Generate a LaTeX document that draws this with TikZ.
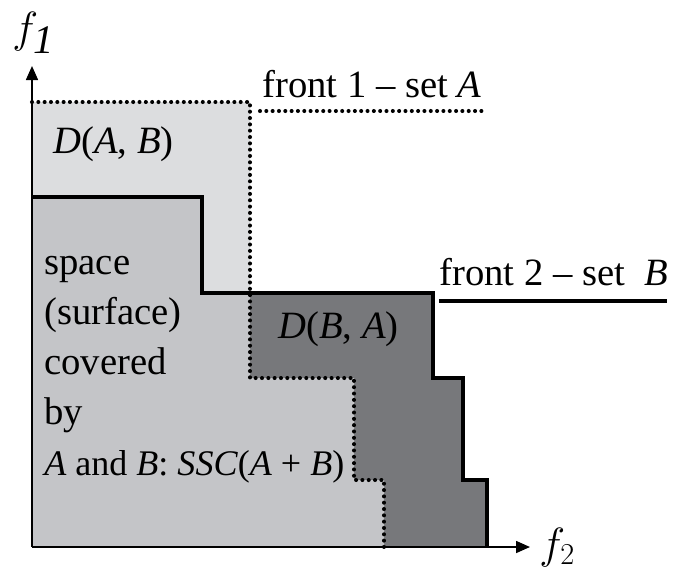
\documentclass[tikz,border=0pt]{standalone}
\usepackage{fontspec}
\setmainfont{Liberation Serif}
\usetikzlibrary{arrows.meta}

\definecolor{lightA}{HTML}{DCDDDF}
\definecolor{midAB}{HTML}{C4C5C8}
\definecolor{darkB}{HTML}{77787B}

\begin{document}
\begin{tikzpicture}[
        x=0.02cm, y=-0.02cm, % one unit = one pixel of the reference
        axis/.style = {line width=0.9pt, -{Triangle[length=0.28cm, width=0.24cm]}},
        frontA/.style = {line width=2.3pt, line cap=round, dash pattern=on 0pt off 3.6pt},
        frontB/.style = {line width=2.3pt},
        lbl/.style = {inner sep=0pt, font=\fontsize{22}{28.5}\selectfont, align=left},
        axlbl/.style = {inner sep=0pt},
    ]
    \useasboundingbox (0,0) rectangle (683,579);

    % regions
    \fill[lightA] (32,102) -| (250,378) -| (354,480) -| (384,547) -| cycle;
    \fill[darkB] (32,197) -| (202,293) -| (433,378) -| (463,480) -| (487,547) -| cycle;
    \fill[midAB] (32,197) -| (202,293) -| (250,378) -| (354,480) -| (384,547) -| cycle;

    % fronts
    \draw[frontA] (32,102) -| (250,378) -| (354,480) -| (384,547);
    \draw[frontB] (32,197) -| (202,293) -| (433,378) -| (463,480) -| (487,547);

    % axes
    \coordinate (o) at (32,547);
    \coordinate (ytip) at (32,66);
    \coordinate (xtip) at (530,547);
    \draw[axis] (o) -- (ytip);
    \draw[axis] (o) -- (xtip);
    \node[axlbl, anchor=base west, font=\fontsize{33}{33}\selectfont] (f1) at (12,42) {$f_{\mathit{1}}$};
    \node[axlbl, anchor=base west, font=\fontsize{24}{24}\selectfont] (f2) at (539,558) {$f_2$};

    % legend
    \node[lbl, anchor=base west] (legA) at (262,97) {front 1 – set \textit{A}};
    \node[lbl, anchor=base west] (legB) at (439,285) {front 2 – set~ \textit{B}};
    \coordinate (legA1) at (260,111);
    \coordinate (legA2) at (483,111);
    \coordinate (legB1) at (439,301);
    \coordinate (legB2) at (667,301);
    \draw[frontA] (legA1) -- (legA2);
    \draw[frontB] (legB1) -- (legB2);

    % region labels
    \node[lbl, anchor=base west] (dab) at (53,153) {\textit{D}(\textit{A}, \textit{B})};
    \node[lbl, anchor=base west] (dba) at (278,338) {\textit{D}(\textit{B}, \textit{A})};
    \node[lbl, anchor=base west] (ssc) at (44,475) {space\\(surface)\\covered\\by\\{\fontsize{20.5}{28.5}\selectfont\textit{A} and \textit{B}: \textit{SSC}(\textit{A} + \textit{B})}};
\end{tikzpicture}
\end{document}
